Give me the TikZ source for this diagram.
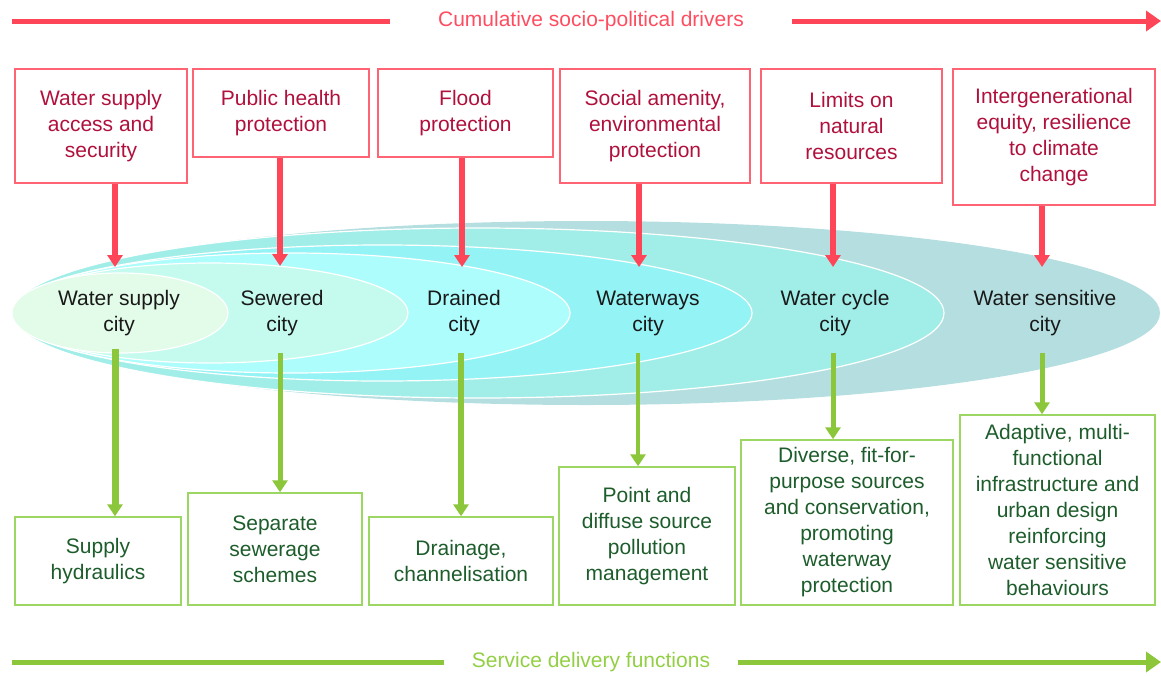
\documentclass[tikz,border=0pt]{standalone}
\usepackage{fontspec}
\setmainfont{Liberation Sans}
\usetikzlibrary{arrows.meta}
\definecolor{drvred}{HTML}{FF4658}
\definecolor{drvlabel}{HTML}{FF4D60}
\definecolor{drvedge}{HTML}{FF6474}
\definecolor{drvtext}{HTML}{B0103C}
\definecolor{svcgreen}{HTML}{8CC63A}
\definecolor{svclabel}{HTML}{93CF45}
\definecolor{svcedge}{HTML}{9CD663}
\definecolor{svctext}{HTML}{1D5C2B}
\definecolor{wsens}{HTML}{B4DEE0}
\definecolor{wcycle}{HTML}{A1EEE9}
\definecolor{wways}{HTML}{93F3F5}
\definecolor{wdrain}{HTML}{ADFDFD}
\definecolor{wsewer}{HTML}{C5FBEE}
\definecolor{wsupply}{HTML}{E3FCE9}
\tikzset{
    %Define standard arrow tip
    >={Triangle[length=12pt,width=15pt]},
    % Define arrow styles
    rpil/.style={
           ->,
           draw=drvred,
           line width=5.5pt},
    gpil/.style={
           ->,
           draw=svcgreen,
           line width=5pt},
    % Define box styles
    drvbox/.style={draw=drvedge, line width=1.5pt, text=drvtext,
           align=center, inner sep=0pt},
    svcbox/.style={draw=svcedge, line width=1.5pt, text=svctext,
           align=center, inner sep=0pt},
    city/.style={text=black!90, align=center},
    ring/.style={draw=white, line width=1.2pt}
}
\begin{document}
\begin{tikzpicture}[x=1pt,y=-1pt,font=\fontsize{21}{26}\selectfont]
\useasboundingbox (0,0) rectangle (1161,675);

% nested cities
\fill[wsens] (586,313) ellipse [x radius=574pt, y radius=92pt];
\filldraw[fill=wcycle, ring] (478,313) ellipse [x radius=466pt, y radius=85pt];
\filldraw[fill=wways, ring] (382,313) ellipse [x radius=370pt, y radius=68pt];
\filldraw[fill=wdrain, ring] (291,313) ellipse [x radius=279pt, y radius=60pt];
\filldraw[fill=wsewer, ring] (210,313) ellipse [x radius=198pt, y radius=50pt];
\filldraw[fill=wsupply, ring] (120,313) ellipse [x radius=108pt, y radius=40pt];

\node[city] (city1) at (119,313) {Water supply\\city};
\node[city] (city2) at (282,313) {Sewered\\city};
\node[city] (city3) at (464,313) {Drained\\city};
\node[city] (city4) at (648,313) {Waterways\\city};
\node[city] (city5) at (835,313) {Water cycle\\city};
\node[city] (city6) at (1045,313) {Water sensitive\\city};

% drivers
\node[drvbox, minimum width=172pt, minimum height=114pt] (drv1) at (101,126)
    {Water supply\\access and\\security};
\node[drvbox, minimum width=176pt, minimum height=88pt] (drv2) at (281,113)
    {Public health\\protection};
\node[drvbox, minimum width=175pt, minimum height=88pt] (drv3) at (465.5,113)
    {Flood\\protection};
\node[drvbox, minimum width=190pt, minimum height=114pt] (drv4) at (655,126)
    {Social amenity,\\environmental\\protection};
\node[drvbox, minimum width=181pt, minimum height=114pt] (drv5) at (851.5,126)
    {Limits on\\natural\\resources};
\node[drvbox, minimum width=202pt, minimum height=136pt] (drv6) at (1054,137)
    {Intergenerational\\equity, resilience\\to climate\\change};

% service functions
\node[svcbox, minimum width=166pt, minimum height=88pt] (svc1) at (98,561)
    {Supply\\hydraulics};
\node[svcbox, minimum width=174pt, minimum height=112pt] (svc2) at (275,549)
    {Separate\\sewerage\\schemes};
\node[svcbox, minimum width=184pt, minimum height=88pt] (svc3) at (461,561)
    {Drainage,\\channelisation};
\node[svcbox, minimum width=176pt, minimum height=138pt] (svc4) at (647,536)
    {Point and\\diffuse source\\pollution\\management};
\node[svcbox, minimum width=212pt, minimum height=165pt] (svc5) at (847,522.5)
    {Diverse, fit-for-\\purpose sources\\and conservation,\\promoting\\waterway\\protection};
\node[svcbox, minimum width=195pt, minimum height=190pt] (svc6) at (1057.5,510)
    {Adaptive, multi-\\functional\\infrastructure and\\urban design\\reinforcing\\water sensitive\\behaviours};

% arrow ends
\coordinate (tip1) at (115,267);
\coordinate (tip2) at (280,266);
\coordinate (tip3) at (462,267);
\coordinate (tip4) at (639,267);
\coordinate (tip5) at (833,267);
\coordinate (tip6) at (1042,267);
\coordinate (foot1) at (115,349);
\coordinate (foot2) at (280,353);
\coordinate (foot3) at (461,353);
\coordinate (foot4) at (638,353);
\coordinate (foot5) at (833,353);
\coordinate (foot6) at (1042,353);

\draw[rpil] (tip1 |- drv1.south) -- (tip1);
\draw[rpil] (tip2 |- drv2.south) -- (tip2);
\draw[rpil] (tip3 |- drv3.south) -- (tip3);
\draw[rpil] (tip4 |- drv4.south) -- (tip4);
\draw[rpil] (tip5 |- drv5.south) -- (tip5);
\draw[rpil] (tip6 |- drv6.south) -- (tip6);

\draw[gpil, line width=7pt] (foot1) -- (foot1 |- svc1.north);
\draw[gpil] (foot2) -- (foot2 |- svc2.north);
\draw[gpil, line width=6pt] (foot3) -- (foot3 |- svc3.north);
\draw[gpil, line width=3.5pt] (foot4) -- (foot4 |- svc4.north);
\draw[gpil] (foot5) -- (foot5 |- svc5.north);
\draw[gpil] (foot6) -- (foot6 |- svc6.north);

% top and bottom bands
\node[text=drvlabel, inner xsep=48pt] (drivers) at (591,21)
    {Cumulative socio-political drivers};
\coordinate (drvL) at (12,21);
\coordinate (drvR) at (1161,21);
\draw[drvred, line width=5pt] (drvL) -- (drivers.west);
\draw[drvred, line width=5pt, -{Triangle[length=15pt,width=20pt]}] (drivers.east) -- (drvR);

\node[text=svclabel, inner xsep=28pt] (services) at (591,662)
    {Service delivery functions};
\coordinate (svcL) at (12,662);
\coordinate (svcR) at (1161,662);
\draw[svcgreen, line width=5pt] (svcL) -- (services.west);
\draw[svcgreen, line width=5pt, -{Triangle[length=15pt,width=20pt]}] (services.east) -- (svcR);

\end{tikzpicture}
\end{document}
